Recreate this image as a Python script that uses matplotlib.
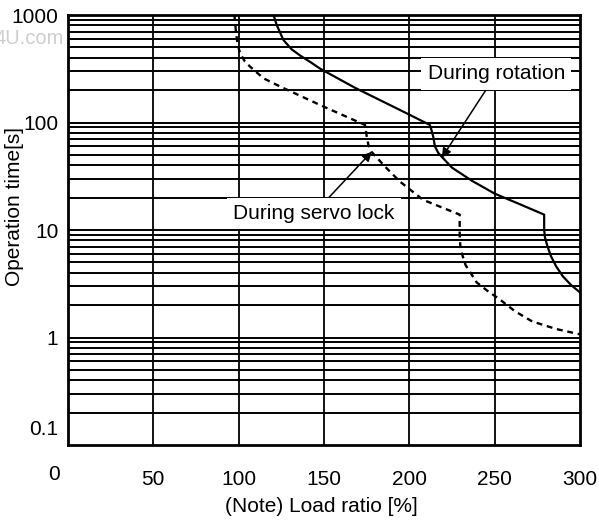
import matplotlib
matplotlib.use("Agg")
import matplotlib.pyplot as plt

plt.rcParams['font.family'] = ['Liberation Sans', 'DejaVu Sans']

# curves (load ratio %, operation time s)
rotation_x = [120.4, 122.3, 126.2, 131, 136, 142, 147.7, 168, 194.4, 212, 213, 214, 215, 217, 219, 225,
              237, 250, 265, 279, 279, 279.5, 281, 283, 286, 290, 295, 300]
rotation_y = [1000, 807, 586, 480, 420, 365, 317, 211, 131, 95, 85, 74, 60, 52, 48, 38,
              28.5, 21.8, 17.3, 13.9, 10, 8.5, 7, 5.7, 4.6, 3.7, 3.05, 2.63]

servo_x = [97.5, 98.5, 99.3, 100.8, 103.7, 106.7, 114.5, 124.3, 150, 174, 174.5, 175, 176, 178, 185.7,
           194.4, 208, 220, 229.5, 229.5, 230, 233, 239.5, 246, 253, 262, 272, 286, 300]
servo_y = [1000, 676, 546, 441, 369, 331, 258, 216, 140, 95, 85, 75, 62, 53, 39,
           28.3, 19.1, 16, 13.9, 9, 6.6, 4.7, 3.25, 2.7, 2.26, 1.75, 1.41, 1.2, 1.07]

x_ticks = [50, 100, 150, 200, 250, 300]
y_ticks = [1, 10, 100, 1000]
y_tick_labels = ['1', '10', '100', '1000']

fig = plt.figure(figsize=(5.99, 5.2), dpi=100)
ax = fig.add_axes([68 / 599, 75 / 520, 512 / 599, 430 / 520])

ax.set_yscale('log')
ax.set_xlim(0, 300)
ax.set_ylim(0.1, 1000)

# hand-drawn style grid: every 1..9 step of each decade
for dec in [0.1, 1, 10, 100]:
    for m in range(1, 10):
        v = dec * m
        if v <= 0.1:
            continue
        ax.axhline(v, color='black', lw=1.4, zorder=1)
for xv in x_ticks[:-1]:
    ax.axvline(xv, color='black', lw=1.3, zorder=1)

ax.plot(rotation_x, rotation_y, color='black', lw=1.6, zorder=3)
ax.plot(servo_x, servo_y, color='black', lw=1.7, ls=(0, (2.5, 2)), zorder=3)

box = dict(boxstyle='square,pad=0.3', fc='white', ec='none')
arrow = dict(arrowstyle='-|>', color='black', lw=1.1, mutation_scale=14, shrinkA=0, shrinkB=0)
ax.annotate('During rotation', xy=(219, 47), xytext=(251, 283), fontsize=15,
            ha='center', va='center', bbox=box, arrowprops=arrow, zorder=5)
ax.annotate('During servo lock', xy=(178, 53.5), xytext=(144, 14.2), fontsize=15,
            ha='center', va='center', bbox=box, arrowprops=arrow, zorder=5)

for s in ax.spines.values():
    s.set_linewidth(2)
    s.set_zorder(4)

ax.set_xticks(x_ticks)
ax.set_xticklabels([str(v) for v in x_ticks])
ax.set_yticks(y_ticks + [0.145])
ax.set_yticklabels(y_tick_labels + ['0.1'])
ax.yaxis.set_minor_locator(matplotlib.ticker.NullLocator())
ax.tick_params(axis='both', length=0, labelsize=15)
ax.tick_params(axis='y', pad=7)
ax.tick_params(axis='x', pad=18)

# the lone "0" sits left of the axis corner
fig.text(54 / 599, 1 - 474 / 520, '0', fontsize=15, ha='center', va='center')
# faint site watermark at the top left
fig.text(64 / 599, 1 - 38 / 520, '4U.com', fontsize=14.5, ha='right', va='center', color='#cfcfcf')

fig.text(321 / 599, 1 - 506 / 520, '(Note) Load ratio [%]', fontsize=15, ha='center', va='center')
fig.text(15 / 599, 1 - 207 / 520, 'Operation time[s]', fontsize=15, ha='center', va='center',
         rotation=90)

fig.savefig('out.png', dpi=100)
